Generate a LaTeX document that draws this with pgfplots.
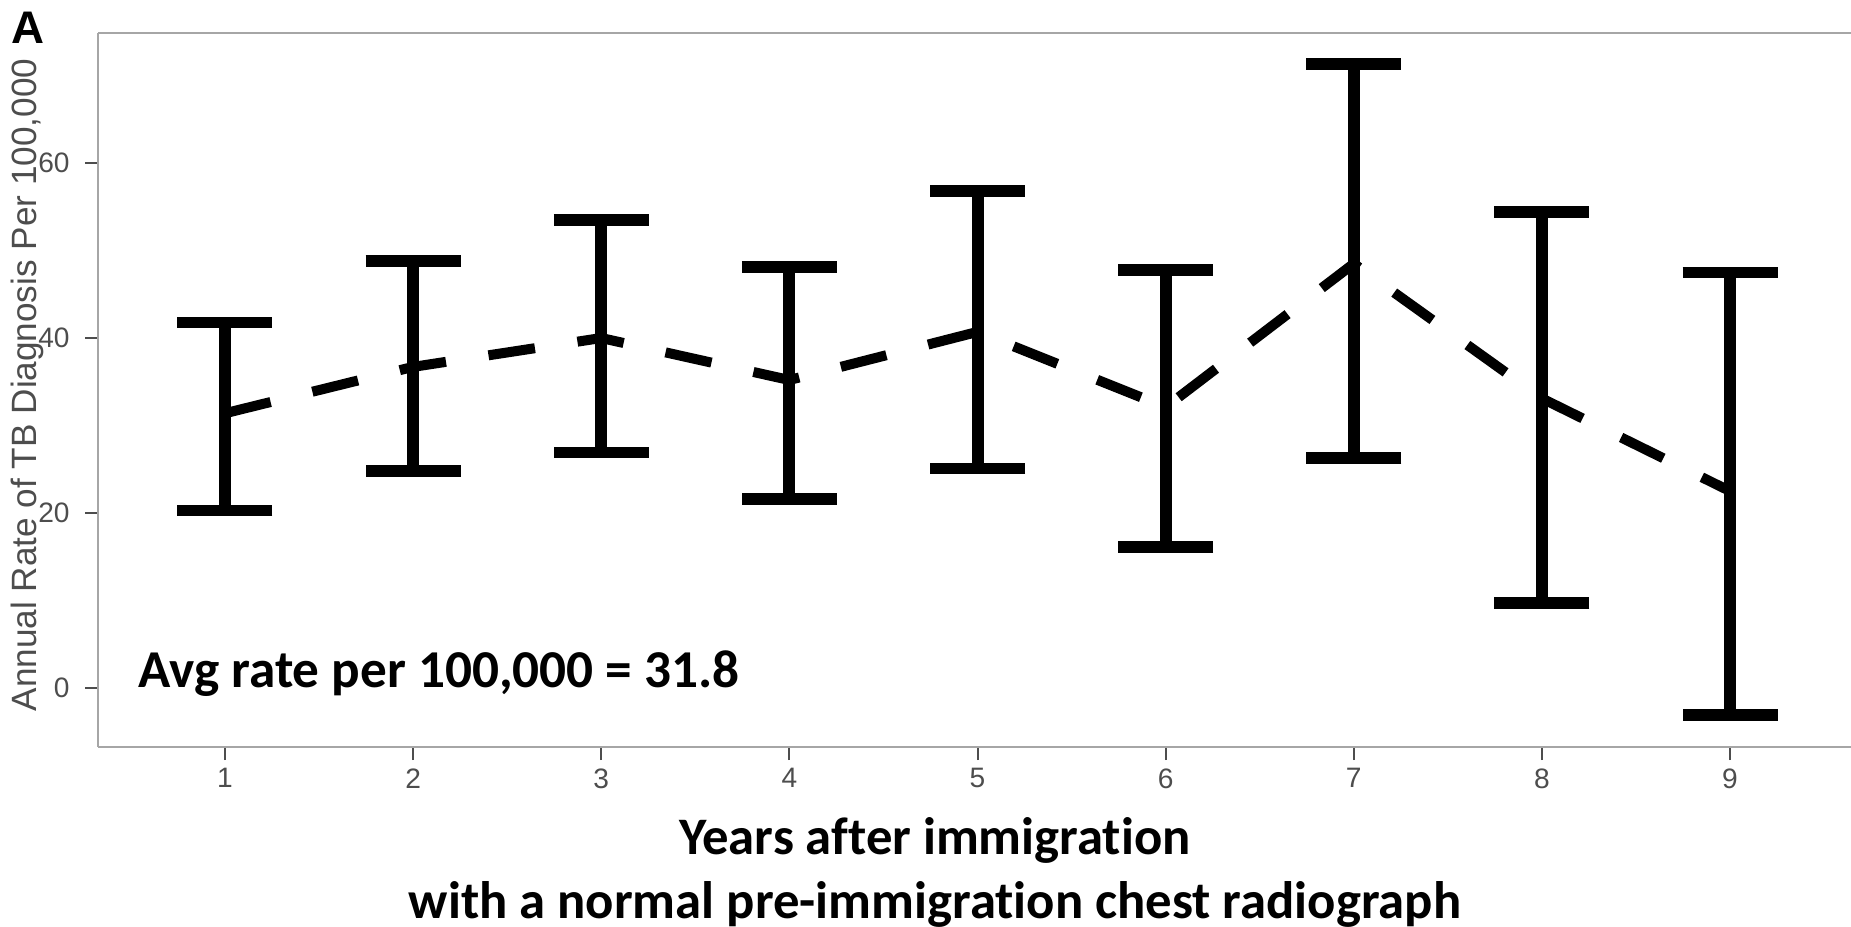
\documentclass[border=0pt]{standalone}
\usepackage{fontspec}
\setmainfont{Liberation Sans}
\newfontfamily\calibri[Ligatures=NoCommon]{Carlito}
\usepackage{pgfplots}
\pgfplotsset{compat=1.18}
\usepackage{pgfplotstable}
\definecolor{axgray}{HTML}{A6A6A6}
\definecolor{tkgray}{HTML}{4D4D4D}

% year, mean rate, upper and lower CI distances
\pgfplotstableread{
x  y     ep    em
1  31.4  10.4  11.1
2  36.7  12.1  11.9
3  40.0  13.5  13.1
4  35.2  12.9  13.6
5  40.7  16.1  15.6
6  32.1  15.7  16.0
7  48.5  22.8  22.2
8  33.1  21.3  23.4
9  22.5  25.0  25.6
}\ratedata

\begin{document}
\begin{tikzpicture}
\begin{axis}[
  name=ax,
  scale only axis,
  width=17.53cm, height=7.14cm,
  xmin=0.325, xmax=9.643,
  ymin=-6.74, ymax=74.86,
  xtick={1,...,9}, ytick={0,20,40,60},
  axis x line*=bottom, axis y line*=left,
  axis line style={-, draw=axgray, line width=0.2mm},
  tick align=outside,
  major tick length=1.3mm,
  tick style={draw=tkgray, line width=0.2mm},
  xtick pos=bottom, ytick pos=left,
  tick label style={font=\fontsize{8}{9.6}\selectfont, text=tkgray},
  /pgf/number format/assume math mode=true,
  yticklabel style={xshift=-0.3mm},
  xticklabel style={yshift=0.4mm},
]
\addplot[black, line width=1.0mm, dash pattern=on 4.7mm off 4.3mm,
  error bars/.cd, y dir=both, y explicit,
  error bar style={solid, line width=1.2mm},
  error mark=|,
  error mark options={solid, mark size=4.75mm, line width=1.15mm},
] table[x=x, y=y, y error plus=ep, y error minus=em] {\ratedata};
\end{axis}
\draw[axgray, line width=0.2mm] (ax.north west) -- (ax.north east);
\node[font=\bfseries\fontsize{13}{15}\selectfont, inner sep=0pt]
  at ([xshift=-7.0mm, yshift=0.5mm]ax.north west) {A};
\node[rotate=90, text=tkgray, font=\fontsize{10}{12}\selectfont, inner sep=0pt]
  at ([xshift=-7.1mm, yshift=0.5mm]ax.west) {Annual Rate of TB Diagnosis Per 100,000};
\node[anchor=west, font=\calibri\bfseries\fontsize{15.15}{18}\selectfont, inner sep=0pt]
  at ([xshift=4.0mm, yshift=7.3mm]ax.south west) {Avg rate per 100,000 = 31.8};
\node[font=\calibri\bfseries\fontsize{15}{18}\selectfont, inner sep=0pt]
  at ([xshift=83.7mm, yshift=-9.3mm]ax.south west) {Years after immigration};
\node[font=\calibri\bfseries\fontsize{15}{18}\selectfont, inner sep=0pt]
  at ([xshift=83.7mm, yshift=-15.7mm]ax.south west) {with a normal pre-immigration chest radiograph};
\pgfresetboundingbox
\path ([xshift=-9.8mm, yshift=-18.0mm]ax.south west) rectangle ([yshift=3.3mm]ax.north east);
\end{tikzpicture}
\end{document}
